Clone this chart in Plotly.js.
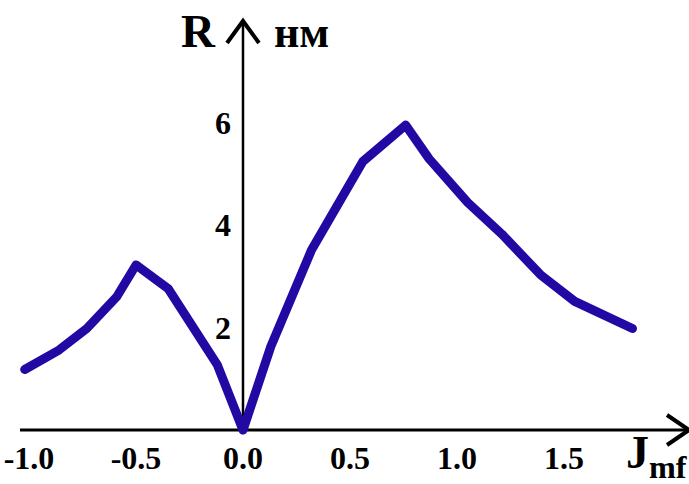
<!DOCTYPE html>
<html>
<head>
<meta charset="utf-8">
<script src="https://cdn.plot.ly/plotly-3.0.1.min.js"></script>
<style>
html, body { margin: 0; padding: 0; background: #fff; }
#chart { width: 689px; height: 484px; }
.js-line { stroke-linejoin: round; stroke-linecap: round; }
</style>
</head>
<body>
<div id="chart"></div>
<script>
// Data
const jmf = [-1.02, -0.86, -0.73, -0.59, -0.50, -0.35, -0.12, 0.0, 0.13, 0.32, 0.56, 0.76, 0.87, 1.05, 1.21, 1.39, 1.55, 1.82];
const rNm = [1.18, 1.56, 1.98, 2.60, 3.22, 2.76, 1.27, 0.0, 1.63, 3.51, 5.24, 5.95, 5.29, 4.44, 3.82, 3.03, 2.51, 1.98];

const xTickVals = [-1.0, -0.5, 0.0, 0.5, 1.0, 1.5];
const xTickText = ['-1.0', '-0.5', '0.0', '0.5', '1.0', '1.5'];
const yTickVals = [2, 4, 6];
const yTickText = ['2', '4', '6'];

const W = 689, H = 484;
const originPx = {x: 243, y: 430};
const pxPerX = 214, pxPerY = 51.25;
const xRange = [(0 - originPx.x) / pxPerX, (W - originPx.x) / pxPerX];
const yRange = [(originPx.y - H) / pxPerY, originPx.y / pxPerY];
const px2x = p => (p - originPx.x) / pxPerX;
const py2y = p => (originPx.y - p) / pxPerY;

const serif = 'Liberation Serif, Times New Roman, serif';

const trace = {
  x: jmf, y: rNm, type: 'scatter', mode: 'lines',
  line: {color: '#2309a3', width: 9, shape: 'linear'},
  hoverinfo: 'skip'
};

const layout = {
  width: W, height: H,
  margin: {l: 0, r: 0, t: 0, b: 0, pad: 0},
  paper_bgcolor: '#fff', plot_bgcolor: '#fff',
  showlegend: false,
  xaxis: {
    domain: [0, 1], range: xRange, anchor: 'free', position: (H - originPx.y) / H,
    showgrid: false, zeroline: false, showline: false, ticks: '',
    tickmode: 'array', tickvals: xTickVals, ticktext: xTickText,
    tickfont: {family: serif, size: 32, color: '#000', weight: 'bold'},
    ticklabelstandoff: 6, fixedrange: true
  },
  yaxis: {
    domain: [0, 1], range: yRange, anchor: 'free', position: originPx.x / W,
    showgrid: false, zeroline: false, showline: false, ticks: '',
    tickmode: 'array', tickvals: yTickVals, ticktext: yTickText,
    tickfont: {family: serif, size: 32, color: '#000', weight: 'bold'},
    ticklabelstandoff: 12, fixedrange: true
  },
  shapes: [
    // x axis line
    {type: 'line', xref: 'x', yref: 'y', x0: px2x(20), x1: px2x(688), y0: 0, y1: 0,
     line: {color: '#000', width: 3}, layer: 'below'},
    // y axis line
    {type: 'line', xref: 'x', yref: 'y', x0: 0, x1: 0, y0: 0, y1: py2y(21),
     line: {color: '#000', width: 2.5}, layer: 'below'},
    // x arrow chevron
    {type: 'path', xref: 'x', yref: 'y', xsizemode: 'pixel', ysizemode: 'pixel',
     xanchor: px2x(689), yanchor: 0, path: 'M -22,15 L 0,0 L -22,-15',
     line: {color: '#000', width: 4}},
    // y arrow chevron
    {type: 'path', xref: 'x', yref: 'y', xsizemode: 'pixel', ysizemode: 'pixel',
     xanchor: 0, yanchor: py2y(21), path: 'M -16,-22 L 0,0 L 16,-22',
     line: {color: '#000', width: 4}}
  ],
  annotations: [
    {x: 198 / W, y: 1 - 31 / H, xref: 'paper', yref: 'paper', xanchor: 'center', yanchor: 'middle',
     text: 'R', showarrow: false, font: {family: serif, size: 47, color: '#000', weight: 'bold'}},
    {x: 301 / W, y: 1 - 33 / H, xref: 'paper', yref: 'paper', xanchor: 'center', yanchor: 'middle',
     text: 'нм', showarrow: false, font: {family: serif, size: 44, color: '#000', weight: 'bold'}},
    {x: 624 / W, y: 1 - 456 / H, xref: 'paper', yref: 'paper', xanchor: 'left', yanchor: 'middle',
     text: 'J<sub>mf</sub>', showarrow: false, font: {family: serif, size: 46, color: '#000', weight: 'bold'}}
  ]
};

Plotly.newPlot('chart', [trace], layout, {staticPlot: true, displayModeBar: false});
</script>
</body>
</html>
